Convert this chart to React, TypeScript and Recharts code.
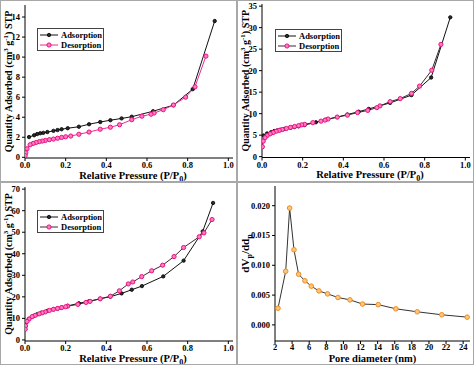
import React from "react";
import { LineChart, Line, XAxis, YAxis, Legend } from "recharts";

const SERIF = "'Liberation Serif', 'Times New Roman', Times, serif";

// (a) isotherm
const aAdsP = [0.02, 0.045, 0.06, 0.075, 0.09, 0.11, 0.14, 0.16, 0.18, 0.21, 0.265, 0.315, 0.37, 0.42, 0.475, 0.525, 0.63, 0.73, 0.825, 0.933];
const aAdsQ = [2.02, 2.2, 2.32, 2.4, 2.44, 2.52, 2.64, 2.72, 2.8, 2.9, 3.05, 3.3, 3.52, 3.7, 3.88, 4.05, 4.6, 5.2, 6.8, 13.6];
const aDesP = [0.89, 0.836, 0.79, 0.73, 0.68, 0.635, 0.62, 0.575, 0.525, 0.465, 0.42, 0.37, 0.315, 0.265, 0.225, 0.2, 0.18, 0.16, 0.14, 0.12, 0.1, 0.085, 0.07, 0.055, 0.04, 0.025, 0.01, 0.004, 0.001];
const aDesQ = [10.1, 7.03, 6.0, 5.22, 4.75, 4.42, 4.3, 4.1, 3.75, 3.25, 3.0, 2.8, 2.52, 2.3, 2.12, 2.05, 1.98, 1.9, 1.82, 1.76, 1.68, 1.62, 1.56, 1.48, 1.38, 1.25, 0.85, 0.45, 0.15];

// (b) isotherm
const bAdsP = [0.008, 0.025, 0.045, 0.06, 0.075, 0.09, 0.11, 0.14, 0.16, 0.18, 0.21, 0.265, 0.315, 0.37, 0.42, 0.475, 0.525, 0.63, 0.735, 0.832, 0.926];
const bAdsQ = [4.9, 5.4, 5.7, 5.95, 6.1, 6.25, 6.45, 6.7, 6.9, 7.05, 7.35, 8.0, 8.6, 9.2, 9.8, 10.45, 11.1, 12.5, 14.3, 18.4, 32.4];
const bDesP = [0.88, 0.835, 0.775, 0.735, 0.68, 0.63, 0.58, 0.565, 0.52, 0.47, 0.42, 0.37, 0.325, 0.31, 0.29, 0.25, 0.21, 0.195, 0.18, 0.16, 0.14, 0.12, 0.1, 0.085, 0.07, 0.055, 0.04, 0.025, 0.015, 0.006, 0.002];
const bDesQ = [26.1, 20.1, 16.4, 14.7, 13.5, 12.8, 11.8, 11.4, 10.75, 10.25, 9.65, 9.2, 8.75, 8.5, 8.25, 7.9, 7.5, 7.4, 7.2, 7.0, 6.8, 6.55, 6.3, 6.1, 5.9, 5.6, 5.3, 4.9, 4.4, 3.6, 2.3];

// (c) isotherm
const cAdsP = [0.005, 0.02, 0.04, 0.06, 0.08, 0.11, 0.14, 0.16, 0.18, 0.21, 0.265, 0.315, 0.37, 0.42, 0.475, 0.525, 0.575, 0.68, 0.78, 0.874, 0.925];
const cAdsQ = [8.1, 9.8, 11.0, 11.9, 12.6, 13.5, 14.2, 14.6, 15.1, 15.8, 17.0, 18.0, 19.1, 20.1, 21.6, 23.3, 25.0, 29.5, 36.8, 50.4, 63.6];
const cDesP = [0.92, 0.88, 0.857, 0.78, 0.733, 0.677, 0.623, 0.574, 0.53, 0.508, 0.464, 0.42, 0.37, 0.32, 0.3, 0.26, 0.21, 0.2, 0.18, 0.16, 0.14, 0.12, 0.1, 0.085, 0.07, 0.05, 0.035, 0.02, 0.01, 0.003, 0.001];
const cDesQ = [55.9, 49.7, 47.9, 42.9, 38.7, 34.7, 32.1, 29.4, 26.9, 26.0, 22.8, 20.3, 19.1, 17.9, 17.4, 16.5, 15.7, 15.4, 15.0, 14.6, 14.2, 13.7, 13.0, 12.6, 12.1, 11.4, 10.8, 9.7, 8.6, 6.5, 5.0];

// (d) pore size distribution
const poreD = [2.35, 3.25, 3.71, 4.22, 4.76, 5.5, 6.24, 7.14, 8.15, 9.36, 10.76, 12.24, 14.07, 16.13, 18.63, 21.5, 24.47];
const poreDv = [0.0028, 0.009, 0.0196, 0.0126, 0.0085, 0.0074, 0.0065, 0.0057, 0.0052, 0.0046, 0.0042, 0.0035, 0.0034, 0.0027, 0.0022, 0.0017, 0.0013];

const pTicks = [0, 0.2, 0.4, 0.6, 0.8, 1.0];
const aTicks = [0, 2, 4, 6, 8, 10, 12, 14];
const bTicks = [0, 5, 10, 15, 20, 25, 30, 35];
const cTicks = [0, 10, 20, 30, 40, 50, 60, 70];
const dXTicks = [2, 4, 6, 8, 10, 12, 14, 16, 18, 20, 22, 24];
const dYTicks = [0, 0.005, 0.01, 0.015, 0.02];

const zip = (xs: number[], ys: number[]) => xs.map((x, i) => ({ x, y: ys[i] }));

const blackDot = { r: 1.7, fill: "#2a2a2a", stroke: "#000", strokeWidth: 0.8 };
const pinkDot = { r: 2.1, fill: "#ff7cc3", stroke: "#e8127f", strokeWidth: 1 };
const orangeDot = { r: 2.3, fill: "#fcc77a", stroke: "#f28c1e", strokeWidth: 1 };

const tickStyle = { fontSize: 8.5, fontWeight: "bold", fill: "#000", fontFamily: SERIF };

type Series = { name: string; xs: number[]; ys: number[]; stroke: string; dot: any };

const isoYLabel = (
  <>
    Quantity Adsorbed (cm<tspan dy={-3.5} fontSize={7}>3</tspan>
    <tspan dy={3.5}> g</tspan>
    <tspan dy={-3.5} fontSize={7}>-1</tspan>
    <tspan dy={3.5}>) STP</tspan>
  </>
);
const isoXLabel = (
  <>
    Relative Pressure (P/P<tspan dy={3} fontSize={8}>0</tspan>
    <tspan dy={-3}>)</tspan>
  </>
);
const psdYLabel = (
  <>
    dV<tspan dy={3.5} fontSize={8}>p</tspan>
    <tspan dy={-3.5}>/dd</tspan>
    <tspan dy={3.5} fontSize={8}>p</tspan>
  </>
);

function Panel(props: any) {
  const { x0, y0, w, h, top, right, yW, xH, xDomain, yDomain, xTicks, yTicks, xFmt, yFmt, series, tag, xLabel, yLabel, yLabelSize, yLabelDy, xLabelDx, xLabelDy, xTickMargin, legend } = props;
  const s: Series[] = series;
  return (
    <div style={{ position: "absolute", left: x0, top: y0, width: w, height: h }}>
      <LineChart width={w} height={h} margin={{ top, right, bottom: 0, left: 0 }}>
        <XAxis
          dataKey="x" type="number" domain={xDomain} ticks={xTicks} tickFormatter={xFmt}
          allowDataOverflow interval={0} height={xH} stroke="#000" tick={tickStyle}
          tickSize={3} tickMargin={xTickMargin}
          label={{
            content: (p: any) => {
              const vb = p.viewBox;
              return (
                <text x={vb.x + vb.width / 2 + xLabelDx} y={vb.y + xLabelDy} textAnchor="middle"
                  fontFamily={SERIF} fontWeight="bold" fontSize={10.5} fill="#000">{xLabel}</text>
              );
            },
          }}
        />
        <XAxis
          xAxisId="top" orientation="top" type="number" domain={xDomain} allowDataOverflow
          height={0} tick={false} tickLine={false} stroke="#000"
          label={{
            content: (p: any) => {
              const vb = p.viewBox;
              return (
                <text x={vb.x + vb.width - 3} y={vb.y + 10} textAnchor="end"
                  fontFamily={SERIF} fontWeight="bold" fontSize={10.5} fill="#000">{tag}</text>
              );
            },
          }}
        />
        <YAxis
          type="number" domain={yDomain} ticks={yTicks} tickFormatter={yFmt} allowDataOverflow
          interval={0} width={yW} stroke="#000" tick={tickStyle} tickSize={3} tickMargin={2}
          label={{
            content: (p: any) => {
              const vb = p.viewBox;
              const cx = vb.x + 11.5;
              const cy = vb.y + vb.height / 2 + yLabelDy;
              return (
                <text transform={`translate(${cx},${cy}) rotate(-90)`} textAnchor="middle"
                  fontFamily={SERIF} fontWeight="bold" fontSize={yLabelSize} fill="#000">{yLabel}</text>
              );
            },
          }}
        />
        <YAxis
          yAxisId="right" orientation="right" type="number" domain={yDomain} allowDataOverflow
          width={0} tick={false} tickLine={false} stroke="#000"
        />
        {legend && (
          <Legend
            layout="vertical" verticalAlign="middle" align="center"
            wrapperStyle={{ left: legend.left, top: legend.top, width: 67, height: 23 }}
            content={() => (
              <div style={{ width: 67, height: 23, boxSizing: "border-box", border: "1px solid #444", background: "#fff", fontFamily: SERIF, fontWeight: "bold", fontSize: 8.5, lineHeight: "10px", padding: "1px 0 0 1px" }}>
                {s.map((it) => (
                  <div key={it.name} style={{ display: "flex", alignItems: "center", height: 10 }}>
                    <svg width={20} height={10} style={{ flex: "none" }}>
                      <line x1={1} x2={19} y1={5} y2={5} stroke={it.stroke} strokeWidth={1} />
                      <circle cx={10} cy={5} r={it.dot.r} fill={it.dot.fill} stroke={it.dot.stroke} strokeWidth={it.dot.strokeWidth} />
                    </svg>
                    <span style={{ marginLeft: 2 }}>{it.name}</span>
                  </div>
                ))}
              </div>
            )}
          />
        )}
        {s.map((it) => (
          <Line
            key={it.name} data={zip(it.xs, it.ys)} dataKey="y" name={it.name} type="linear"
            stroke={it.stroke} strokeWidth={1} dot={it.dot} activeDot={false} isAnimationActive={false}
          />
        ))}
      </LineChart>
      <div style={{ position: "absolute", left: 0, top: 0, right: 0, bottom: 0, border: "1px solid #a8a8a8", pointerEvents: "none" }} />
    </div>
  );
}

const f1 = (v: number) => v.toFixed(1);
const f0 = (v: number) => String(v);
const f3 = (v: number) => v.toFixed(3);

export default function App() {
  const common = { w: 237, xFmt: f1, yFmt: f0, xTicks: pTicks, xDomain: [0, 1.023], xLabel: isoXLabel, yLabel: isoYLabel, yLabelSize: 10, yLabelDy: 0, xLabelDx: 4, xLabelDy: 20.5, xTickMargin: 1, right: 4, yW: 25 };
  return (
    <div style={{ position: "absolute", left: 0, top: 0, width: 474, height: 365, background: "#fff" }}>
      <Panel
        {...common} x0={0} y0={0} h={182} top={5} xH={24}
        yDomain={[-0.07, 15.2]} yTicks={aTicks} tag="(a)" legend={{ left: 37, top: 28 }}
        series={[
          { name: "Adsorption", xs: aAdsP, ys: aAdsQ, stroke: "#111", dot: blackDot },
          { name: "Desorption", xs: aDesP, ys: aDesQ, stroke: "#ee2a95", dot: pinkDot },
        ]}
      />
      <Panel
        {...common} x0={237} y0={0} h={182} top={4} xH={24.5}
        yDomain={[-0.2, 35.5]} yTicks={bTicks} tag="(b)" legend={{ left: 38, top: 29 }}
        series={[
          { name: "Adsorption", xs: bAdsP, ys: bAdsQ, stroke: "#111", dot: blackDot },
          { name: "Desorption", xs: bDesP, ys: bDesQ, stroke: "#3a2a30", dot: pinkDot },
        ]}
      />
      <Panel
        {...common} x0={0} y0={182} h={183} top={5} xH={24}
        yDomain={[-0.5, 71]} yTicks={cTicks} tag="(c)" legend={{ left: 37, top: 28 }}
        series={[
          { name: "Adsorption", xs: cAdsP, ys: cAdsQ, stroke: "#111", dot: blackDot },
          { name: "Desorption", xs: cDesP, ys: cDesQ, stroke: "#3a2a30", dot: pinkDot },
        ]}
      />
      <Panel
        w={237} x0={237} y0={182} h={183} top={4} right={4} yW={38} xH={24}
        xDomain={[2, 24.8]} yDomain={[-0.0027, 0.0233]} xTicks={dXTicks} yTicks={dYTicks}
        xFmt={f0} yFmt={f3} tag="(d)" xLabel="Pore diameter (nm)" yLabel={psdYLabel}
        yLabelSize={11} yLabelDy={-10} xLabelDx={0} xLabelDy={20.5} xTickMargin={0}
        series={[{ name: "PSD", xs: poreD, ys: poreDv, stroke: "#333", dot: orangeDot }]}
      />
    </div>
  );
}
